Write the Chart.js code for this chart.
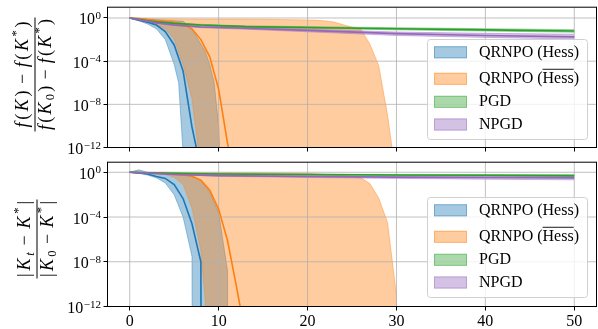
<!DOCTYPE html>
<html><head><meta charset="utf-8">
<script src="https://cdn.jsdelivr.net/npm/chart.js@4.4.1/dist/chart.umd.min.js"></script>
<style>
html,body{margin:0;padding:0;background:#fff;}
#wrap{position:relative;width:598px;height:329px;overflow:hidden;background:#fff;}
canvas{position:absolute;left:0;}
#c1{top:0;} #c2{top:155px;}
</style></head><body>
<div id="wrap"><canvas id="c1" width="598" height="155"></canvas><canvas id="c2" width="598" height="174"></canvas></div>
<script>
// ---------- data (log10 of the normalised quantity; Z = exactly zero) ----------
const Z = -Infinity;
const xTicks = [0, 10, 20, 30, 40, 50];
const yTickExps = [-12, -8, -4, 0];
const legendLabels = ['QRNPO (Hess)', 'QRNPO (Hess\u0305)', 'PGD', 'NPGD'];

// top panel: (f(K)-f(K*)) / (f(K0)-f(K*))
const costHessMeanT = [0,1,2,3,4,5,6,7,8,9];
const costHessMean  = [0,-0.2,-0.39,-0.65,-1.25,-2.5,-4.9,-10.1,-14,Z];
const costHessBandT = [0,1,2,3,4,5,5.5,6,7,8,8.5,9,9.5,10,10.5,11];
const costHessLo    = [0,-0.25,-0.55,-1.0,-2.0,-4.3,-6.0,-12.5,Z,Z,Z,Z,Z,Z,Z,Z];
const costHessHi    = [0,-0.05,-0.1,-0.15,-0.2,-0.25,-0.28,-0.3,-1.0,-2.4,-3.1,-4.3,-6.0,-10.0,-20,Z];

const costBarMeanT  = [0,1,2,3,4,5,6,7,8,9,10,11,12,13];
const costBarMean   = [0,-0.05,-0.15,-0.25,-0.32,-0.4,-0.55,-1.0,-2.0,-3.6,-6.6,-11.6,-15.6,Z];
const costBarBandT  = [0,1,2,3,4,5,6,7,8,9,10,15,20,21,22,23,24,25,26,27,28,29,30,31];
const costBarLo     = [0,-0.1,-0.3,-0.6,-1.0,-2.0,-4.3,-7.5,-14,Z,Z,Z,Z,Z,Z,Z,Z,Z,Z,Z,Z,Z,Z,Z];
const costBarHi     = [0,-0.03,-0.06,-0.07,-0.08,-0.08,-0.09,-0.09,-0.1,-0.1,-0.1,-0.12,-0.18,-0.22,-0.27,-0.38,-0.62,-0.85,-1.05,-2.4,-4.4,-9.0,-15,Z];

const costPgdT      = [0,1,2,3,5,8,13,20,30,40,50];
const costPgdMean   = [0,-0.12,-0.25,-0.35,-0.5,-0.65,-0.8,-0.88,-1.0,-1.1,-1.2];
const costPgdLo     = [0,-0.14,-0.28,-0.39,-0.55,-0.71,-0.87,-0.96,-1.1,-1.21,-1.32];
const costPgdHi     = [0,-0.1,-0.22,-0.31,-0.45,-0.59,-0.73,-0.8,-0.9,-0.99,-1.08];
const costNpgdMean  = [0,-0.15,-0.3,-0.45,-0.65,-0.83,-0.95,-1.15,-1.45,-1.62,-1.75];
const costNpgdLo    = [0,-0.17,-0.33,-0.49,-0.7,-0.9,-1.04,-1.28,-1.62,-1.8,-1.95];
const costNpgdHi    = [0,-0.13,-0.27,-0.41,-0.6,-0.76,-0.87,-1.03,-1.3,-1.42,-1.5];

// bottom panel: |K_t - K*| / |K_0 - K*|
const gapHessMeanT  = [0,1,2,3,4,5,6,7,8,9];
const gapHessMean   = [0,-0.05,-0.15,-0.38,-0.55,-1.1,-2.35,-4.6,-8.0,Z];
const gapHessBandT  = [0,1,2,3,4,5,6,7,8,9,10,11,12];
const gapHessLo     = [0,-0.1,-0.25,-0.5,-0.95,-2.0,-4.0,-7.5,Z,Z,Z,Z,Z];
const gapHessHi     = [0,0.22,0,-0.02,-0.05,-0.08,-0.15,-0.3,-0.75,-1.8,-3.6,-8.8,Z];

const gapBarMeanT   = [0,1,2,3,4,5,6,7,8,9,10,11,12,13,14];
const gapBarMean    = [0,-0.02,-0.05,-0.08,-0.12,-0.18,-0.25,-0.36,-0.7,-1.6,-3.3,-6.1,-10.2,-14.5,Z];
const gapBarBandT   = [0,1,2,3,4,5,6,7,8,8.5,9,10,15,20,23,25,26,27,28,29,30,31];
const gapBarLo      = [0,-0.02,-0.04,-0.1,-0.2,-0.45,-1.1,-3.2,-7.0,-11.5,Z,Z,Z,Z,Z,Z,Z,Z,Z,Z,Z,Z];
const gapBarHi      = [0,0,0,0,0,-0.01,-0.01,-0.01,-0.02,-0.02,-0.02,-0.02,-0.05,-0.1,-0.25,-0.35,-0.5,-1.0,-2.3,-4.5,-11.0,Z];

const gapPgdT       = [0,2,5,10,20,30,40,50];
const gapPgdMean    = [0,-0.05,-0.1,-0.15,-0.2,-0.24,-0.27,-0.3];
const gapPgdLo      = [0,-0.06,-0.12,-0.18,-0.24,-0.29,-0.33,-0.37];
const gapPgdHi      = [0,-0.04,-0.08,-0.12,-0.16,-0.19,-0.21,-0.23];
const gapNpgdMean   = [0,-0.08,-0.2,-0.3,-0.38,-0.43,-0.47,-0.5];
const gapNpgdLo     = [0,-0.09,-0.23,-0.36,-0.47,-0.55,-0.62,-0.68];
const gapNpgdHi     = [0,-0.07,-0.17,-0.25,-0.31,-0.34,-0.36,-0.38];

// ---------- styling ----------
const RGB = ['31,119,180', '255,127,14', '44,160,44', '148,103,189'];
const FONT = "'Liberation Serif'";
Chart.defaults.font.family = FONT;
Chart.defaults.color = '#000';

// log-scale plotting: exact zeros are clipped far below the axis (like matplotlib)
const toVal = e => (e === -Infinity ? 1e-300 : Math.pow(10, e));
const pts = (T, V) => T.map((t, i) => ({x: t, y: toVal(V[i])}));

function bandSets(T, lo, hi, k, order) {
  const c = 'rgba(' + RGB[k] + ',0.4)';
  return [
    {data: pts(T, lo), borderColor: c, borderWidth: 1, fill: false, order, pointRadius: 0, tension: 0, _role: 'band'},
    {data: pts(T, hi), borderColor: c, borderWidth: 1, backgroundColor: c, fill: '-1', order, pointRadius: 0, tension: 0, _role: 'band'}
  ];
}
function lineSet(T, v, k, order) {
  return {data: pts(T, v), borderColor: 'rgb(' + RGB[k] + ')', borderWidth: 1.6, fill: false, order, pointRadius: 0, tension: 0, _role: 'line'};
}

// ---------- drawing helpers ----------
function drawGrid(chart) {
  const {ctx, chartArea: a, scales: {x, y}} = chart;
  ctx.save();
  ctx.beginPath(); ctx.rect(a.left, a.top, a.right - a.left, a.bottom - a.top); ctx.clip();
  ctx.strokeStyle = '#b0b0b0'; ctx.lineWidth = 0.8;
  ctx.beginPath();
  xTicks.forEach(v => { const p = x.getPixelForValue(v); ctx.moveTo(p, a.top); ctx.lineTo(p, a.bottom); });
  yTickExps.forEach(e => { const p = y.getPixelForValue(Math.pow(10, e)); ctx.moveTo(a.left, p); ctx.lineTo(a.right, p); });
  ctx.stroke();
  ctx.restore();
}
function drawYLabels(chart) {
  const {ctx, scales: {y}} = chart;
  ctx.save(); ctx.fillStyle = '#000'; ctx.textBaseline = 'alphabetic'; ctx.textAlign = 'left';
  yTickExps.forEach(e => {
    const p = y.getPixelForValue(Math.pow(10, e));
    const sup = e === 0 ? '0' : '\u2212' + (-e);
    ctx.font = '11px ' + FONT; const ws = ctx.measureText(sup).width;
    ctx.font = '16px ' + FONT; const wm = ctx.measureText('10').width;
    const right = 101;
    ctx.fillText('10', right - ws - wm - 0.5, p + 6.5);
    ctx.font = '11px ' + FONT; ctx.fillText(sup, right - ws, p + 1);
  });
  ctx.restore();
}
function layoutMath(ctx, parts, size) {
  let x = 0; const items = [];
  parts.forEach(([t, st, pos]) => {
    const s = (pos === 'sup' || pos === 'sub') ? size * 0.7 : size;
    const font = (st === 'i' ? 'italic ' : '') + s + 'px ' + FONT;
    ctx.font = font;
    const w = ctx.measureText(t).width;
    const pad = pos === 'op' ? size * 0.22 : 0;
    items.push({t, font, x: x + pad, dy: pos === 'sup' ? -size * 0.42 : pos === 'sub' ? size * 0.22 : 0});
    x += w + 2 * pad;
  });
  return {items, w: x};
}
function drawMath(ctx, parts, size, target, baseline) {
  const L = layoutMath(ctx, parts, size);
  const gap = Math.max(0, (target - L.w) / (L.items.length - 1));
  const total = L.w + gap * (L.items.length - 1);
  const x0 = -total / 2;
  L.items.forEach((it, i) => { ctx.font = it.font; ctx.fillText(it.t, x0 + it.x + i * gap, baseline + it.dy); });
  return total;
}
function drawFraction(ctx, cx, cy, num, den, tn, td) {
  ctx.save();
  ctx.translate(cx, cy); ctx.rotate(-Math.PI / 2);
  ctx.fillStyle = '#000'; ctx.textAlign = 'left'; ctx.textBaseline = 'alphabetic';
  const w1 = drawMath(ctx, num, 18, tn, -7);
  const w2 = drawMath(ctx, den, 18, td, 15.5);
  const bw = Math.max(w1, w2) + 3;
  ctx.fillRect(-bw / 2, -0.5, bw, 1);
  ctx.restore();
}
function drawLegend(ctx, top) {
  const left = 427, right = 587, h = 100;
  ctx.save();
  ctx.beginPath();
  if (ctx.roundRect) ctx.roundRect(left + 0.5, top + 0.5, right - left, h, 3); else ctx.rect(left + 0.5, top + 0.5, right - left, h);
  ctx.fillStyle = 'rgba(255,255,255,0.8)'; ctx.fill();
  ctx.strokeStyle = '#d0d0d0'; ctx.lineWidth = 1; ctx.stroke();
  const cys = [13.3, 39.8, 62.8, 85.5];
  legendLabels.forEach((lab, k) => {
    const cy = top + cys[k];
    const c = 'rgba(' + RGB[k] + ',0.4)';
    ctx.fillStyle = c; ctx.fillRect(434, cy - 6, 33, 12);
    ctx.strokeStyle = c; ctx.lineWidth = 1; ctx.strokeRect(434.5, cy - 5.5, 32, 11);
    ctx.fillStyle = '#000'; ctx.font = '16px ' + FONT; ctx.textBaseline = 'middle'; ctx.textAlign = 'left';
    if (k === 1) {
      const pre = 'QRNPO (', word = 'Hess';
      const w0 = ctx.measureText(pre).width, w1 = ctx.measureText(word).width;
      ctx.fillText(pre, 479, cy); ctx.fillText(word, 479 + w0, cy); ctx.fillText(')', 479 + w0 + w1, cy);
      ctx.fillRect(479 + w0, cy - 10, w1, 0.9);
    } else {
      ctx.fillText(lab, 479, cy);
    }
  });
  ctx.restore();
}

const decor = {
  id: 'decor',
  beforeDatasetsDraw(chart) { chart.$gridDone = false; },
  beforeDatasetDraw(chart, args) {
    const ds = chart.data.datasets[args.index];
    if (ds._role === 'line' && !chart.$gridDone) { drawGrid(chart); chart.$gridDone = true; }
  },
  afterDraw(chart, args, opts) {
    const {ctx, chartArea: a} = chart;
    if (!chart.$gridDone) drawGrid(chart);
    ctx.save(); ctx.strokeStyle = '#000'; ctx.lineWidth = 1;
    ctx.strokeRect(a.left, a.top, a.right - a.left, a.bottom - a.top);
    ctx.restore();
    drawYLabels(chart);
    drawLegend(ctx, opts.legendTop);
    drawFraction(ctx, opts.titleX, opts.titleY, opts.num, opts.den, opts.tn, opts.td);
  }
};

function makeChart(id, datasets, o) {
  return new Chart(document.getElementById(id), {
    type: 'line',
    data: {datasets},
    plugins: [decor],
    options: {
      responsive: false, animation: false, events: [],
      layout: {padding: {left: 0, right: 1.5, top: o.padTop, bottom: 0}},
      plugins: {legend: {display: false}, tooltip: {enabled: false}, decor: o.decor},
      scales: {
        x: {
          type: 'linear', min: -2.5, max: 52.5,
          afterBuildTicks: s => { s.ticks = xTicks.map(v => ({value: v})); },
          ticks: {callback: v => (o.xLabels ? String(v) : ''), padding: 2, maxRotation: 0, autoSkip: false, font: {size: 16, family: FONT}, color: '#000'},
          grid: {display: true, drawOnChartArea: false, drawTicks: true, tickLength: 4, tickColor: '#000', tickWidth: 1},
          border: {display: false},
          afterFit: s => { s.height = o.xHeight; }
        },
        y: {
          type: 'logarithmic', min: 1e-12, max: o.yMax,
          afterBuildTicks: s => { s.ticks = yTickExps.map(e => ({value: Math.pow(10, e)})); },
          ticks: {callback: () => '', padding: 0},
          grid: {display: true, drawOnChartArea: false, drawTicks: true, tickLength: 4, tickColor: '#000', tickWidth: 1},
          border: {display: false},
          afterFit: s => { s.width = 107.5; }
        }
      }
    }
  });
}

function panelSets(H, B, P, N) {
  return [
    ...bandSets(H.bT, H.lo, H.hi, 0, 8),
    ...bandSets(B.bT, B.lo, B.hi, 1, 7),
    ...bandSets(P.T, P.lo, P.hi, 2, 6),
    ...bandSets(P.T, N.lo, N.hi, 3, 5),
    lineSet(H.mT, H.m, 0, 4),
    lineSet(B.mT, B.m, 1, 3),
    lineSet(P.T, P.m, 2, 2),
    lineSet(P.T, N.m, 3, 1)
  ];
}

const I = (t, st) => [t, st || 'r', ''];
const topNum = [['f','i',''],['(','r',''],['K','i',''],[')','r',''],['\u2212','r','op'],['f','i',''],['(','r',''],['K','i',''],['*','r','sup'],[')','r','']];
const topDen = [['f','i',''],['(','r',''],['K','i',''],['0','r','sub'],[')','r',''],['\u2212','r','op'],['f','i',''],['(','r',''],['K','i',''],['*','r','sup'],[')','r','']];
const botNum = [['|','r',''],['K','i',''],['t','i','sub'],['\u2212','r','op'],['K','i',''],['*','r','sup'],['|','r','']];
const botDen = [['|','r',''],['K','i',''],['0','r','sub'],['\u2212','r','op'],['K','i',''],['*','r','sup'],['|','r','']];

makeChart('c1',
  panelSets({mT: costHessMeanT, m: costHessMean, bT: costHessBandT, lo: costHessLo, hi: costHessHi},
            {mT: costBarMeanT, m: costBarMean, bT: costBarBandT, lo: costBarLo, hi: costBarHi},
            {T: costPgdT, m: costPgdMean, lo: costPgdLo, hi: costPgdHi},
            {m: costNpgdMean, lo: costNpgdLo, hi: costNpgdHi}),
  {padTop: 1.5, xHeight: 7.5, xLabels: false, yMax: Math.pow(10, 1.0),
   decor: {legendTop: 39, titleX: 35, titleY: 74.5, num: topNum, den: topDen, tn: 106, td: 111}});

makeChart('c2',
  panelSets({mT: gapHessMeanT, m: gapHessMean, bT: gapHessBandT, lo: gapHessLo, hi: gapHessHi},
            {mT: gapBarMeanT, m: gapBarMean, bT: gapBarBandT, lo: gapBarLo, hi: gapBarHi},
            {T: gapPgdT, m: gapPgdMean, lo: gapPgdLo, hi: gapPgdHi},
            {m: gapNpgdMean, lo: gapNpgdLo, hi: gapNpgdHi}),
  {padTop: 6.5, xHeight: 22.5, xLabels: true, yMax: Math.pow(10, 0.9),
   decor: {legendTop: 42, titleX: 37, titleY: 84, num: botNum, den: botDen, tn: 76, td: 76}});
</script>
</body></html>
